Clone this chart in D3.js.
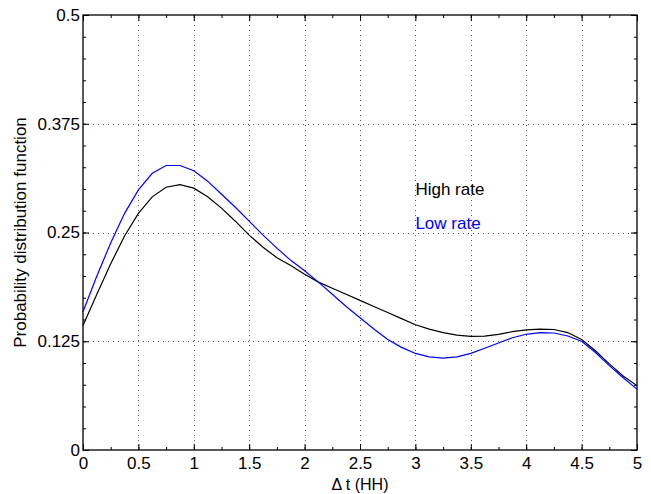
<!DOCTYPE html>
<html>
<head>
<meta charset="utf-8">
<script src="https://cdn.jsdelivr.net/npm/d3@7"></script>
<style>
  body { margin: 0; background: #fff; }
  text { font-family: "Liberation Sans", Arial, sans-serif; }
</style>
</head>
<body>
<div id="chart"></div>
<script>
// time axis, step 0.125 HH
const dt = d3.range(0, 5.0001, 0.125);

const highRate = [0.143, 0.179, 0.214, 0.246, 0.272, 0.291, 0.302, 0.305, 0.301, 0.291,
                  0.278, 0.263, 0.247, 0.233, 0.221, 0.212, 0.202, 0.193, 0.186, 0.179,
                  0.172, 0.165, 0.158, 0.151, 0.144, 0.139, 0.135, 0.132, 0.1305, 0.131,
                  0.133, 0.136, 0.138, 0.139, 0.1385, 0.135, 0.127, 0.114, 0.099, 0.085, 0.074];

const lowRate = [0.159, 0.200, 0.238, 0.272, 0.299, 0.318, 0.327, 0.327, 0.321, 0.309,
                 0.294, 0.279, 0.263, 0.247, 0.232, 0.218, 0.206, 0.193, 0.179, 0.165,
                 0.152, 0.139, 0.127, 0.118, 0.111, 0.107, 0.1055, 0.107, 0.111, 0.117,
                 0.123, 0.129, 0.133, 0.135, 0.1345, 0.131, 0.125, 0.112, 0.097, 0.083, 0.070];

const xTicks = [0, 0.5, 1, 1.5, 2, 2.5, 3, 3.5, 4, 4.5, 5];
const yTicks = [0, 0.125, 0.25, 0.375, 0.5];
const yTickLabels = ["0", "0.125", "0.25", "0.375", "0.5"];

const labels = [
    { name: "High rate", x: 3, y: 0.3, color: "#000" },
    { name: "Low rate", x: 3, y: 0.261, color: "#0000ff" }
];

const W = 651, H = 494;
const margin = { top: 15, right: 14, bottom: 44, left: 83 };
const width = W - margin.left - margin.right;
const height = H - margin.top - margin.bottom;

const svg = d3.select("#chart").append("svg")
    .attr("width", W)
    .attr("height", H);

const g = svg.append("g")
    .attr("transform", `translate(${margin.left},${margin.top})`);

const x = d3.scaleLinear().domain([0, 5]).range([0, width]);
const y = d3.scaleLinear().domain([0, 0.5]).range([height, 0]);

// grid lines
g.append("g")
    .selectAll("line")
    .data(xTicks.slice(1, -1))
    .join("line")
    .attr("x1", d => Math.round(x(d)) + 0.5)
    .attr("x2", d => Math.round(x(d)) + 0.5)
    .attr("y1", 0)
    .attr("y2", height)
    .attr("stroke", "#555")
    .attr("stroke-dasharray", "1,4");

g.append("g")
    .selectAll("line")
    .data(yTicks.slice(1, -1))
    .join("line")
    .attr("y1", d => Math.round(y(d)) + 0.5)
    .attr("y2", d => Math.round(y(d)) + 0.5)
    .attr("x1", 0)
    .attr("x2", width)
    .attr("stroke", "#555")
    .attr("stroke-dasharray", "1,4");

// axes (ticks point inward)
const minorX = d3.range(0, 5.0001, 0.25);
const minorY = d3.range(0, 0.5001, 0.025);

function drawAxes(axisFn, scale, minor, major, transform, fmt) {
    g.append("g")
        .attr("transform", transform)
        .call(axisFn(scale).tickValues(minor).tickSize(-3).tickFormat(""))
        .call(a => a.select(".domain").remove());
    return g.append("g")
        .attr("transform", transform)
        .call(axisFn(scale).tickValues(major).tickSize(-6).tickFormat(fmt))
        .call(a => a.select(".domain").remove());
}

const xAxis = drawAxes(d3.axisBottom, x, minorX, xTicks, `translate(0,${height})`, d => d3.format("")(d));
xAxis.selectAll("text").attr("y", 7).attr("dy", "0.71em").attr("font-size", 17).attr("fill", "#000");
drawAxes(d3.axisTop, x, minorX, xTicks, "translate(0,0)", "");

const yAxis = drawAxes(d3.axisLeft, y, minorY, yTicks, "translate(0,0)", (d, i) => yTickLabels[i]);
yAxis.selectAll("text").attr("x", -3).attr("font-size", 17).attr("fill", "#000");
drawAxes(d3.axisRight, y, minorY, yTicks, `translate(${width},0)`, "");

g.selectAll(".tick line").attr("stroke", "#000");

// box
g.append("rect")
    .attr("x", 0)
    .attr("y", 0)
    .attr("width", width)
    .attr("height", height)
    .attr("fill", "none")
    .attr("stroke", "#000")
    .attr("stroke-width", 1.3);

// curves
const line = d3.line()
    .x((d, i) => x(dt[i]))
    .y(d => y(d));

g.append("path")
    .datum(highRate)
    .attr("fill", "none")
    .attr("stroke", "#000")
    .attr("stroke-width", 1.2)
    .attr("d", line);

g.append("path")
    .datum(lowRate)
    .attr("fill", "none")
    .attr("stroke", "#0000ff")
    .attr("stroke-width", 1.2)
    .attr("d", line);

// text labels
g.selectAll(".lbl")
    .data(labels)
    .join("text")
    .attr("class", "lbl")
    .attr("x", d => x(d.x))
    .attr("y", d => y(d.y))
    .attr("dy", "0.35em")
    .attr("font-size", 17)
    .attr("fill", d => d.color)
    .text(d => d.name);

// axis titles
g.append("text")
    .attr("x", width / 2)
    .attr("y", height + 40)
    .attr("text-anchor", "middle")
    .attr("font-size", 16)
    .text("\u0394 t (HH)");

g.append("text")
    .attr("transform", "rotate(-90)")
    .attr("x", -height / 2)
    .attr("y", -margin.left + 26)
    .attr("text-anchor", "middle")
    .attr("font-size", 17)
    .text("Probability distribution function");
</script>
</body>
</html>
